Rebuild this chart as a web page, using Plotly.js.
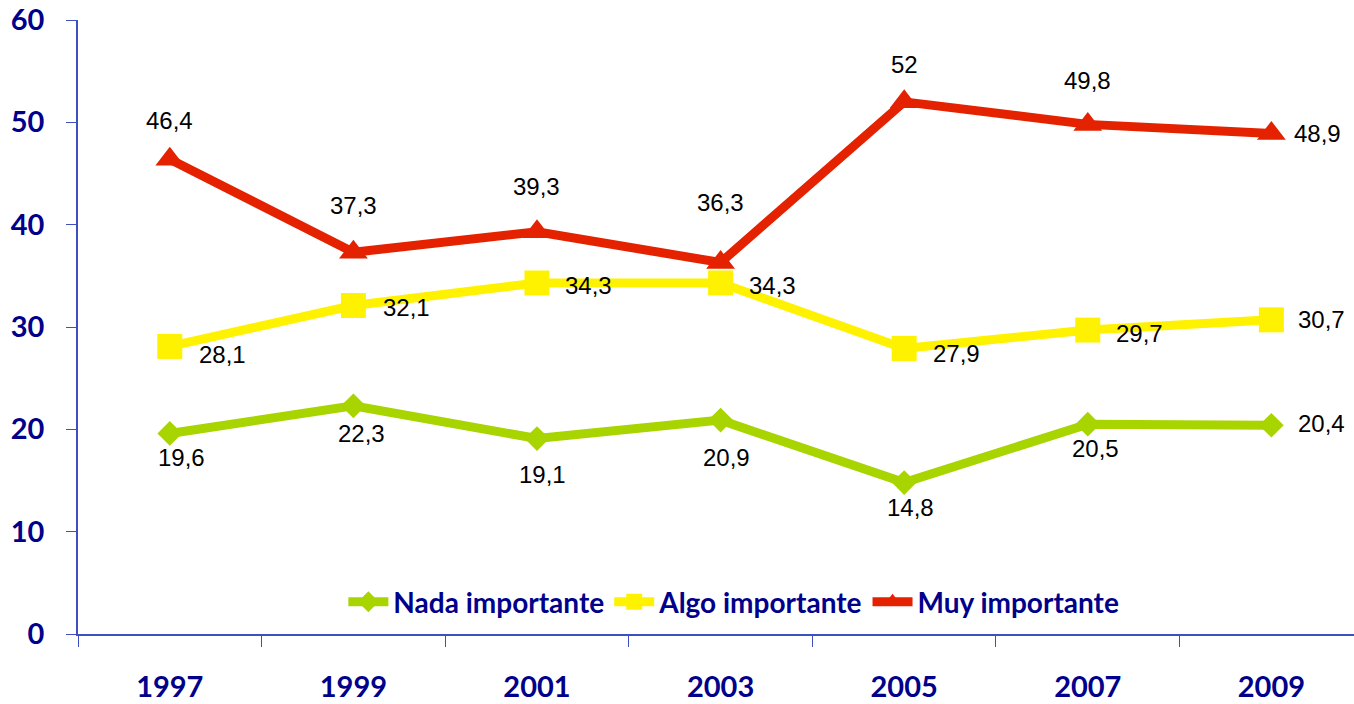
<!DOCTYPE html>
<html>
<head>
<meta charset="utf-8">
<script src="https://cdn.plot.ly/plotly-3.0.1.min.js"></script>
<style>
  html, body { margin: 0; padding: 0; background: #fff; }
  #plotArea { width: 1354px; height: 704px; }
</style>
</head>
<body>
<div id="plotArea"></div>
<script>
// years on the x axis
var years = ["1997", "1999", "2001", "2003", "2005", "2007", "2009"];

// series values
var nada = [19.6, 22.3, 19.1, 20.9, 14.8, 20.5, 20.4];
var algo = [28.1, 32.1, 34.3, 34.3, 27.9, 29.7, 30.7];
var muy = [46.4, 37.3, 39.3, 36.3, 52, 49.8, 48.9];

var navy = "#00008B";
var axisColor = "#3F4FBF";

function label(v) {
    return String(v).replace(".", ",");
}

var trace1 = {
    x: years, y: nada, name: "Nada importante",
    mode: "lines+markers", type: "scatter",
    line: {color: "#A8D400", width: 9},
    marker: {symbol: "diamond", size: 19, color: "#A8D400"}
};
var trace2 = {
    x: years, y: algo, name: "Algo importante",
    mode: "lines+markers", type: "scatter",
    line: {color: "#FFF200", width: 9},
    marker: {symbol: "square", size: 25, color: "#FFF200"}
};
var trace3 = {
    x: years, y: muy, name: "Muy importante",
    mode: "lines+markers", type: "scatter",
    line: {color: "#E52200", width: 9},
    marker: {symbol: "triangle-up", size: 25, color: "#E52200"}
};

// data labels, offsets in pixels
// (category axis -> annotation x is the category index)
var annotations = [];
function addLabels(vals, dx, dy) {
    vals.forEach(function(v, i) {
        annotations.push({
            x: i, y: v, xref: "x", yref: "y",
            text: label(v), showarrow: false,
            xshift: dx[i], yshift: dy[i],
            font: {family: "Liberation Sans, Arial", size: 24, color: "#000"}
        });
    });
}
addLabels(nada, [12, 8, 6, 6, 6, 8, 50], [-24, -28, -36, -37, -25, -24, 2]);
addLabels(algo, [53, 53, 52, 52, 52, 52, 50], [-8, -2, -2, -2, -5, -3, 0]);
addLabels(muy, [0, 0, 0, 0, 0, 0, 46], [39, 47, 45, 60, 37, 44, 0]);

var tickFont = {family: "Lato, Open Sans", size: 29, color: navy, weight: "bold"};

var layout = {
    width: 1354, height: 704,
    margin: {l: 78, r: 0, t: 20, b: 70},
    paper_bgcolor: "#fff", plot_bgcolor: "#fff",
    showlegend: true,
    legend: {
        orientation: "h", x: 0.514, xanchor: "center", y: 0.052, yanchor: "middle",
        font: {family: "Lato, Open Sans", size: 28, color: navy, weight: "bold"},
        bgcolor: "rgba(0,0,0,0)", itemwidth: 40
    },
    xaxis: {
        type: "category", range: [-0.5, 6.45],
        showline: true, linecolor: axisColor, linewidth: 1.5,
        ticks: "outside", tickson: "boundaries", ticklen: 11, tickcolor: axisColor,
        showgrid: false, zeroline: false,
        ticklabelstandoff: 26, ticklabeloverflow: "allow",
        tickfont: tickFont
    },
    yaxis: {
        range: [0, 60], dtick: 10,
        showline: true, linecolor: axisColor, linewidth: 1.5,
        ticks: "outside", ticklen: 10, tickcolor: axisColor,
        showgrid: false, zeroline: false,
        ticklabelstandoff: 16, ticklabeloverflow: "allow",
        tickfont: tickFont
    },
    annotations: annotations
};

Plotly.newPlot("plotArea", [trace1, trace2, trace3], layout, {displayModeBar: false});
</script>
</body>
</html>
